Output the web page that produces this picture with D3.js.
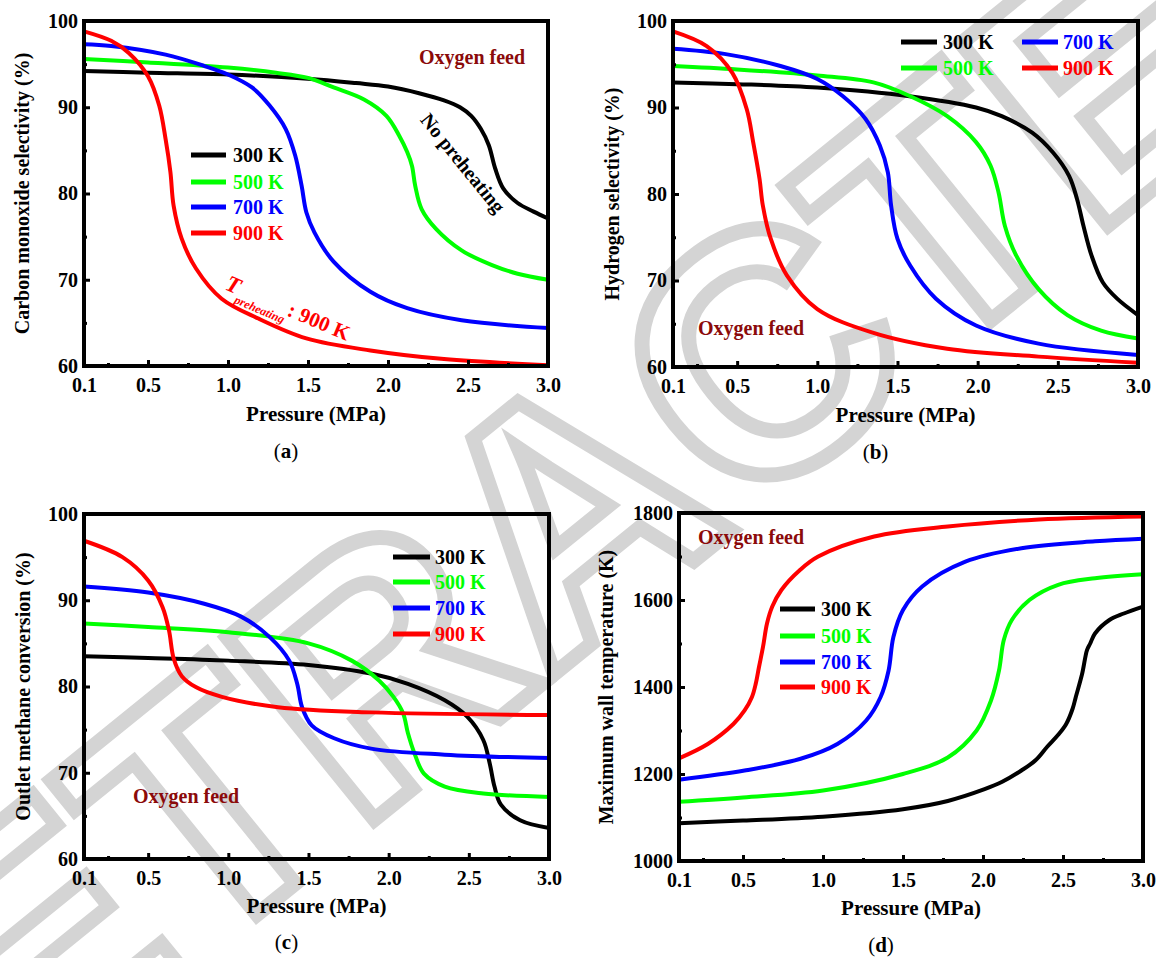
<!DOCTYPE html>
<html><head><meta charset="utf-8">
<script src="https://cdn.jsdelivr.net/npm/d3@7"></script>
<style>
html,body{margin:0;padding:0;background:#fff;}
svg{display:block;}
text{font-family:"Liberation Serif","Times New Roman",serif;}
</style></head>
<body>
<svg id="chart" width="1156" height="958"></svg>
<script>
// ---------- data ----------
const pressureTicks = [0.1, 0.5, 1.0, 1.5, 2.0, 2.5, 3.0];
const pressureMinor = [0.25, 0.75, 1.25, 1.75, 2.25, 2.75];
const pctTicks = [60, 70, 80, 90, 100];
const pctMinor = [65, 75, 85, 95];
const tempTicks = [1000, 1200, 1400, 1600, 1800];
const tempMinor = [1100, 1300, 1500, 1700];
const seriesLabels = ["300 K", "500 K", "700 K", "900 K"];
const seriesColors = ["#000000", "#00ff00", "#0000ff", "#ff0000"];

// (a) Carbon monoxide selectivity (%)
const co300 = [[0.1,94.2],[0.5,94.0],[1.0,93.8],[1.5,93.3],[1.8,92.8],[2.0,92.4],[2.2,91.6],[2.35,90.8],[2.45,90.0],[2.52,89.0],[2.58,87.5],[2.63,85.6],[2.67,82.9],[2.72,80.6],[2.81,78.9],[2.91,77.9],[3.0,77.1]];
const co500 = [[0.1,95.6],[0.5,95.2],[1.0,94.6],[1.3,94.0],[1.5,93.4],[1.66,92.3],[1.85,90.9],[1.99,89.0],[2.07,86.7],[2.12,84.8],[2.15,83.2],[2.17,80.9],[2.21,78.2],[2.3,75.9],[2.46,73.4],[2.65,71.7],[2.81,70.7],[3.0,70.0]];
const co700 = [[0.1,97.3],[0.27,97.1],[0.61,96.1],[0.85,94.8],[1.0,93.8],[1.15,92.3],[1.26,90.2],[1.36,87.5],[1.42,84.4],[1.46,80.9],[1.49,77.8],[1.54,75.5],[1.66,72.1],[1.89,68.6],[2.12,66.7],[2.46,65.3],[3.0,64.4]];
const co900 = [[0.1,98.8],[0.27,97.7],[0.38,96.3],[0.5,93.6],[0.57,90.2],[0.61,86.3],[0.64,82.5],[0.66,78.6],[0.71,74.8],[0.8,71.3],[0.96,67.8],[1.19,65.5],[1.49,63.2],[1.89,61.8],[2.35,60.8],[3.0,60.1]];

// (b) Hydrogen selectivity (%)
const h2_300 = [[0.1,92.9],[0.5,92.7],[1.0,92.3],[1.575,91.3],[1.99,90.0],[2.15,89.0],[2.34,87.1],[2.47,84.8],[2.57,82.1],[2.62,79.4],[2.66,76.3],[2.71,72.9],[2.78,69.8],[2.87,67.9],[3.0,66.0]];
const h2_500 = [[0.1,94.8],[0.5,94.4],[1.0,93.7],[1.35,92.9],[1.58,91.3],[1.81,89.0],[1.99,86.0],[2.08,83.3],[2.13,80.2],[2.17,76.3],[2.24,72.9],[2.38,69.0],[2.56,66.0],[2.77,64.2],[3.0,63.3]];
const h2_700 = [[0.1,96.8],[0.42,96.2],[0.77,94.8],[1.0,93.3],[1.16,91.3],[1.3,88.7],[1.39,85.6],[1.44,82.5],[1.46,78.7],[1.5,74.8],[1.58,71.7],[1.74,67.9],[1.99,64.8],[2.38,62.7],[3.0,61.4]];
const h2_900 = [[0.1,98.8],[0.31,97.1],[0.47,94.0],[0.56,89.8],[0.6,86.0],[0.64,81.7],[0.66,78.7],[0.71,74.8],[0.81,70.6],[1.0,66.7],[1.34,64.0],[1.81,62.1],[2.38,61.2],[3.0,60.5]];

// (c) Outlet methane conversion (%)
const ch4_300 = [[0.1,83.5],[0.5,83.3],[1.0,83.0],[1.5,82.5],[1.89,81.5],[2.12,80.3],[2.35,78.4],[2.49,76.5],[2.59,73.8],[2.63,71.1],[2.66,68.4],[2.7,66.3],[2.82,64.5],[3.0,63.6]];
const ch4_500 = [[0.1,87.3],[0.5,86.9],[1.0,86.3],[1.5,85.0],[1.77,83.0],[1.94,80.7],[2.03,78.8],[2.09,76.9],[2.12,74.6],[2.16,72.3],[2.22,69.9],[2.35,68.4],[2.59,67.6],[3.0,67.2]];
const ch4_700 = [[0.1,91.6],[0.5,90.9],[0.85,89.6],[1.08,88.1],[1.26,85.7],[1.38,83.0],[1.43,80.3],[1.46,77.6],[1.52,75.5],[1.66,74.0],[1.89,72.8],[2.35,72.1],[3.0,71.7]];
const ch4_900 = [[0.1,96.9],[0.34,95.0],[0.5,92.3],[0.59,89.2],[0.63,86.5],[0.66,83.2],[0.71,81.2],[0.8,79.9],[0.96,78.8],[1.31,77.6],[1.89,77.0],[3.0,76.7]];

// (d) Maximum wall temperature (K)
const tw300 = [[0.1,1087],[0.5,1093],[1.0,1102],[1.5,1119],[1.78,1138],[2.01,1165],[2.12,1182],[2.24,1208],[2.33,1232],[2.4,1262],[2.47,1290],[2.52,1315],[2.56,1350],[2.58,1377],[2.62,1431],[2.65,1485],[2.67,1500],[2.7,1523],[2.79,1554],[2.88,1569],[3.0,1585]];
const tw500 = [[0.1,1136],[0.5,1146],[1.0,1162],[1.5,1200],[1.78,1238],[1.96,1300],[2.05,1369],[2.1,1438],[2.13,1508],[2.18,1554],[2.29,1600],[2.47,1635],[2.7,1650],[3.0,1659]];
const tw700 = [[0.1,1187],[0.51,1208],[0.86,1235],[1.09,1269],[1.27,1323],[1.36,1377],[1.41,1438],[1.44,1515],[1.5,1577],[1.62,1631],[1.89,1688],[2.24,1719],[2.7,1735],[3.0,1741]];
const tw900 = [[0.1,1236],[0.28,1269],[0.44,1315],[0.51,1346],[0.556,1377],[0.58,1408],[0.6,1446],[0.625,1492],[0.65,1546],[0.683,1585],[0.74,1623],[0.856,1669],[0.97,1700],[1.32,1746],[1.78,1769],[2.35,1785],[3.0,1792]];

// ---------- drawing ----------
const svg = d3.select("#chart");
const FONT = '"Liberation Serif","Times New Roman",serif';

// watermark (behind)
svg.append("text")
  .attr("transform", "translate(643,602) rotate(-39)")
  .attr("text-anchor", "middle")
  .style("font-family", '"Liberation Sans",Arial,sans-serif')
  .style("font-weight", "bold")
  .style("font-size", "340px")
  .attr("fill", "none")
  .attr("stroke", "#d4d4d4")
  .attr("stroke-width", 15)
  .attr("stroke-linejoin", "miter")
  .text("RETRACTED");

const panels = [
  {id:"a", series:[co300,co500,co700,co900], y:pctTicks, yMinor:pctMinor, yTitle:"Carbon monoxide selectivity (%)",
   box:[84,548,21,366], yTitleX:22, xTitleY:421, labelY:458},
  {id:"b", series:[h2_300,h2_500,h2_700,h2_900], y:pctTicks, yMinor:pctMinor, yTitle:"Hydrogen selectivity (%)",
   box:[673,1138,21,367], yTitleX:612, xTitleY:422, labelY:459},
  {id:"c", series:[ch4_300,ch4_500,ch4_700,ch4_900], y:pctTicks, yMinor:pctMinor, yTitle:"Outlet methane conversion (%)",
   box:[84,549,514,859], yTitleX:23, xTitleY:913, labelY:949},
  {id:"d", series:[tw300,tw500,tw700,tw900], y:tempTicks, yMinor:tempMinor, yTitle:"Maximum wall temperature (K)",
   box:[679,1143,513,861], yTitleX:606, xTitleY:915, labelY:952}
];

panels.forEach(p => {
  const [L,R,T,B] = p.box;
  const x = d3.scaleLinear().domain([0.1,3.0]).range([L,R]);
  const y = d3.scaleLinear().domain([p.y[0], p.y[p.y.length-1]]).range([B,T]);
  const g = svg.append("g");

  // curves
  const line = d3.line().x(d=>x(d[0])).y(d=>y(d[1])).curve(d3.curveCatmullRom.alpha(0.5));
  p.series.forEach((s,i) => {
    g.append("path").datum(s).attr("d", line)
      .attr("fill","none").attr("stroke", seriesColors[i]).attr("stroke-width",4)
      .attr("stroke-linecap","butt");
  });

  // axes
  g.append("g").attr("transform",`translate(0,${B})`)
    .call(d3.axisBottom(x).tickValues(pressureTicks).tickSize(-6).tickPadding(12).tickFormat(d3.format(".1f")));
  g.append("g").attr("transform",`translate(0,${B})`)
    .call(d3.axisBottom(x).tickValues(pressureMinor).tickSize(-3).tickFormat(""));
  g.append("g").attr("transform",`translate(${L},0)`)
    .call(d3.axisLeft(y).tickValues(p.y).tickSize(-6).tickPadding(6).tickFormat(d3.format("d")));
  g.append("g").attr("transform",`translate(${L},0)`)
    .call(d3.axisLeft(y).tickValues(p.yMinor).tickSize(-3).tickFormat(""));
  g.selectAll(".domain").remove();
  g.selectAll(".tick line").attr("stroke","#000").attr("stroke-width",3);
  g.selectAll(".tick text").style("font-family",FONT).style("font-weight","bold")
    .style("font-size","20px").attr("fill","#000");

  // frame
  g.append("rect").attr("x",L).attr("y",T).attr("width",R-L).attr("height",B-T)
    .attr("fill","none").attr("stroke","#000").attr("stroke-width",4);

  // titles
  g.append("text").attr("x",(L+R)/2).attr("y",p.xTitleY).attr("text-anchor","middle")
    .style("font-weight","bold").style("font-size","21px").text("Pressure (MPa)");
  g.append("text").attr("transform",`translate(${p.yTitleX + 7},${(T+B)/2}) rotate(-90)`)
    .attr("text-anchor","middle")
    .style("font-weight","bold").style("font-size","20px").text(p.yTitle);
  const lab = g.append("text").attr("x",(L+R)/2 - 30).attr("y",p.labelY).attr("text-anchor","middle")
    .style("font-size","21px");
  lab.append("tspan").text("(");
  lab.append("tspan").style("font-weight","bold").text(p.id);
  lab.append("tspan").text(")");
});

// legends
function legend(rows, lineX0, lineX1, textX) {
  rows.forEach(r => {
    svg.append("line").attr("x1",r.x0 ?? lineX0).attr("x2",r.x1 ?? lineX1).attr("y1",r.y).attr("y2",r.y)
      .attr("stroke",seriesColors[r.i]).attr("stroke-width",5);
    svg.append("text").attr("x",r.tx ?? textX).attr("y",r.y+7)
      .style("font-weight","bold").style("font-size","20px").attr("fill",seriesColors[r.i])
      .text(seriesLabels[r.i]);
  });
}
legend([{i:0,y:155},{i:1,y:182},{i:2,y:207},{i:3,y:233}], 191, 226, 233);
legend([{i:0,y:42},{i:1,y:68},{i:2,y:42,x0:1022,x1:1058,tx:1063},{i:3,y:68,x0:1022,x1:1058,tx:1063}], 901, 937, 943);
legend([{i:0,y:557},{i:1,y:582},{i:2,y:608},{i:3,y:634}], 393, 430, 435);
legend([{i:0,y:609},{i:1,y:636},{i:2,y:662},{i:3,y:687}], 780, 815, 821);

// annotations
const feedColor = "#8b0a0a";
[[419,64],[698,335],[133,803],[698,544]].forEach(([x,y]) => {
  svg.append("text").attr("x",x).attr("y",y).style("font-weight","bold").style("font-size","20px")
    .attr("fill",feedColor).text("Oxygen feed");
});
svg.append("text").attr("transform","translate(463,163) rotate(51)").attr("text-anchor","middle")
  .attr("dy","0.35em").style("font-weight","bold").style("font-size","20px").text("No preheating");

const tp = svg.append("text").attr("transform","translate(224,289) rotate(23)")
  .style("font-weight","bold").attr("fill","#ff0000");
tp.append("tspan").style("font-style","italic").style("font-size","23px").text("T");
tp.append("tspan").style("font-style","italic").style("font-size","12px").attr("dy",9).text("preheating");
tp.append("tspan").style("font-size","21px").attr("dy",-9).text(": 900 K");
</script>
</body></html>
